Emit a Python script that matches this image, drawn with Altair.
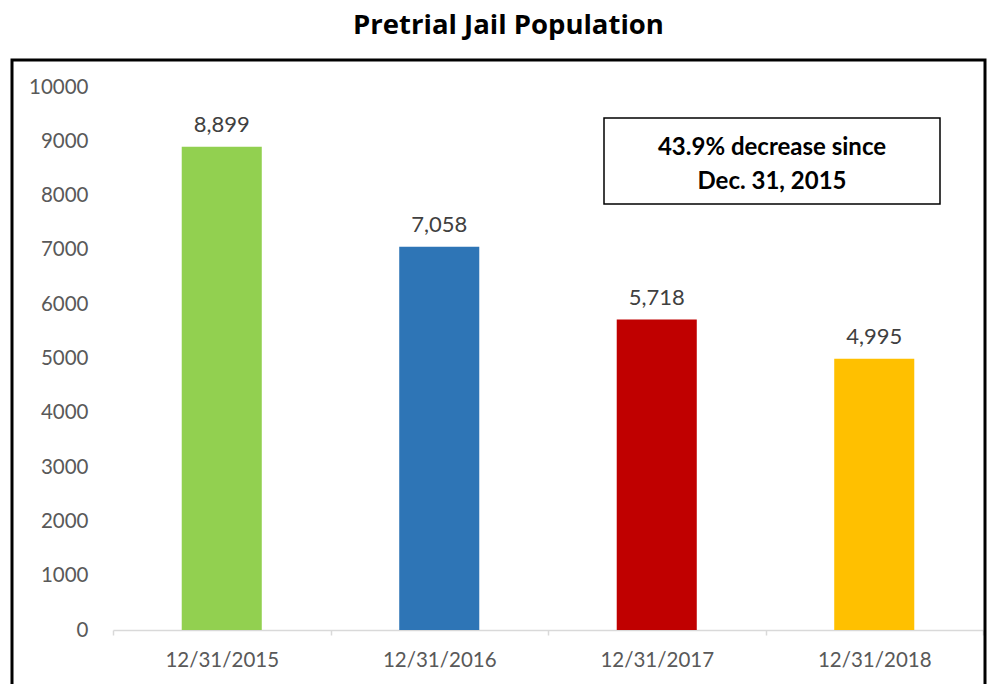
import altair as alt
import pandas as pd

dates = ["12/31/2015", "12/31/2016", "12/31/2017", "12/31/2018"]
population = [8899, 7058, 5718, 4995]
bar_colors = ["#92D050", "#2E75B6", "#C00000", "#FFC000"]
y_ticks = list(range(0, 10001, 1000))
note_lines = ["43.9% decrease since", "Dec. 31, 2015"]
title_text = "Pretrial Jail Population"

FONT = "Lato"
TFONT = "Open Sans"

df = pd.DataFrame({"date": dates, "value": population})
one = pd.DataFrame({"k": [0]})

x_enc = alt.X(
    "date:N", sort=dates,
    scale=alt.Scale(paddingInner=0, paddingOuter=0),
    axis=alt.Axis(title=None, labelAngle=0, domainColor="#D9D9D9", domainWidth=1.5,
                  tickColor="#D9D9D9", tickWidth=1.5, tickBand="extent", tickSize=5,
                  labelFont=FONT, labelFontSize=20.5, labelColor="#595959", labelPadding=15, grid=False),
)
y_enc = alt.Y(
    "value:Q", scale=alt.Scale(domain=[0, 10000], nice=False),
    axis=alt.Axis(title=None, values=y_ticks, format="d", domain=False, ticks=False, grid=False,
                  labelFont=FONT, labelFontSize=20.5, labelColor="#595959", labelPadding=25),
)

border = alt.Chart(one).mark_rect(filled=False, stroke="black", strokeWidth=3).encode(
    x=alt.value(-101), x2=alt.value(872), y=alt.value(-27), y2=alt.value(700)
)

bars = alt.Chart(df).mark_bar(width=alt.RelativeBandSize(0.368)).encode(
    x=x_enc, y=y_enc,
    color=alt.Color("date:N", scale=alt.Scale(domain=dates, range=bar_colors), legend=None),
)

labels = alt.Chart(df).mark_text(dy=-22, font=FONT, fontSize=22, color="#404040").encode(
    x=alt.X("date:N", sort=dates), y="value:Q", text=alt.Text("value:Q", format=",")
)

box = alt.Chart(one).mark_rect(fill="white", stroke="black", strokeWidth=1.5).encode(
    x=alt.value(491), x2=alt.value(827), y=alt.value(31), y2=alt.value(117)
)
box_text = alt.Chart(one).mark_text(
    text=note_lines, font=FONT, fontSize=24, fontWeight="bold", color="black",
    lineHeight=34, baseline="middle"
).encode(x=alt.value(659), y=alt.value(61))

chart = alt.layer(border, bars, labels, box, box_text).properties(
    width=870, height=543,
    autosize=alt.AutoSizeParams(type="none"),
    padding={"left": 105, "top": 79, "right": 9, "bottom": 70},
    title=alt.TitleParams(title_text, font=TFONT, fontSize=27.5, fontWeight="bold",
                          color="black", anchor="middle", frame="bounds", offset=19, dx=10),
).configure_view(stroke=None)

chart.save("out.html", embed_options={"renderer": "svg", "actions": False})
